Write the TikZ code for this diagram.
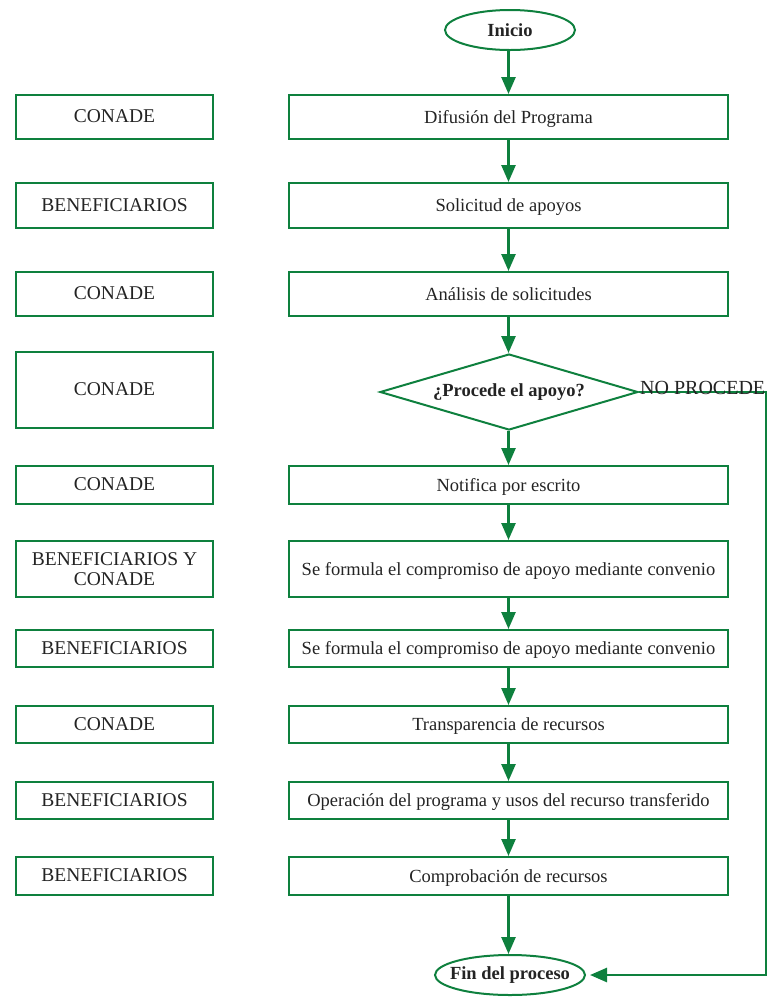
\documentclass[tikz,border=0pt]{standalone}
\usepackage{fontspec}
\setmainfont{Liberation Serif}
\usetikzlibrary{arrows.meta,shapes.geometric}
\definecolor{fgreen}{RGB}{14,128,62}
\definecolor{ftext}{RGB}{35,35,35}
\begin{document}
\begin{tikzpicture}[x=1pt,y=-1pt,
  basebox/.style={draw=fgreen,line width=2pt,rectangle,inner sep=0pt,text=ftext,align=center},
  box/.style={basebox,font=\fontsize{18.5}{19}\selectfont,text height=1.4em,text depth=0.2em},
  lbox/.style={basebox,font=\fontsize{19.5}{20}\selectfont,text height=1.3em,text depth=0.2em},
  mbox/.style={basebox,font=\fontsize{19.5}{20}\selectfont},
  term/.style={draw=fgreen,line width=2pt,ellipse,text=ftext,font=\bfseries\fontsize{18.5}{19}\selectfont},
  dec/.style={draw=fgreen,line width=2pt,diamond,aspect=3.4,inner sep=0pt,text=ftext,font=\bfseries\fontsize{18.5}{19}\selectfont,minimum width=258pt,minimum height=76pt},
  flow/.style={draw=fgreen,line width=2.6pt,-{Triangle[width=14pt,length=17pt]}},
  lbl/.style={text=ftext,font=\fontsize{20}{21}\selectfont,inner sep=0pt}]
\useasboundingbox (0,0) rectangle (768,997);
% terminals
\node[term,inner sep=0pt,minimum width=130pt,minimum height=40pt] (start) at (510,30) {Inicio};
\node[term,inner sep=-7pt,minimum width=150pt,minimum height=40pt] (end) at (510,975) {Fin del proceso};
% right column
\node[box,minimum width=439pt,minimum height=44pt] (r1) at (508.5,117) {Difusión del Programa};
\node[box,minimum width=439pt,minimum height=45pt] (r2) at (508.5,205.5) {Solicitud de apoyos};
\node[box,minimum width=439pt,minimum height=44pt] (r3) at (508.5,294) {Análisis de solicitudes};
\node[dec] (d) at (509,392) {¿Procede el apoyo?};
\node[box,minimum width=439pt,minimum height=38pt] (r5) at (508.5,485) {Notifica por escrito};
\node[box,minimum width=439pt,minimum height=56pt] (r6) at (508.5,569) {Se formula el compromiso de apoyo mediante convenio};
\node[box,minimum width=439pt,minimum height=37pt] (r7) at (508.5,648.5) {Se formula el compromiso de apoyo mediante convenio};
\node[box,minimum width=439pt,minimum height=37pt] (r8) at (508.5,724.5) {Transparencia de recursos};
\node[box,minimum width=439pt,minimum height=37pt] (r9) at (508.5,800.5) {Operación del programa y usos del recurso transferido};
\node[box,minimum width=439pt,minimum height=38pt] (r10) at (508.5,876) {Comprobación de recursos};
% left column
\node[lbox,minimum width=197pt,minimum height=44pt] (l1) at (114.5,117) {CONADE};
\node[lbox,minimum width=197pt,minimum height=45pt] (l2) at (114.5,205.5) {BENEFICIARIOS};
\node[lbox,minimum width=197pt,minimum height=44pt] (l3) at (114.5,294) {CONADE};
\node[lbox,minimum width=197pt,minimum height=76pt] (l4) at (114.5,390) {CONADE};
\node[lbox,minimum width=197pt,minimum height=38pt] (l5) at (114.5,485) {CONADE};
\node[mbox,minimum width=197pt,minimum height=56pt] (l6) at (114.5,569) {BENEFICIARIOS Y\\CONADE};
\node[lbox,minimum width=197pt,minimum height=37pt] (l7) at (114.5,648.5) {BENEFICIARIOS};
\node[lbox,minimum width=197pt,minimum height=37pt] (l8) at (114.5,724.5) {CONADE};
\node[lbox,minimum width=197pt,minimum height=37pt] (l9) at (114.5,800.5) {BENEFICIARIOS};
\node[lbox,minimum width=197pt,minimum height=38pt] (l10) at (114.5,876) {BENEFICIARIOS};
% flow arrows
\draw[flow] (start.south -| r1.north) -- (r1.north);
\draw[flow] (r1) -- (r2);
\draw[flow] (r2) -- (r3);
\draw[flow] (r3.south) -- (r3.south |- d.north);
\draw[flow] (d.south -| r5.north) -- (r5.north);
\draw[flow] (r5) -- (r6);
\draw[flow] (r6) -- (r7);
\draw[flow] (r7) -- (r8);
\draw[flow] (r8) -- (r9);
\draw[flow] (r9) -- (r10);
\draw[flow] (r10.south) -- (r10.south |- end.north);
% no procede
\coordinate (c1) at (766,392);
\coordinate (c2) at (766,975);
\draw[flow] (d.east) -- (c1) -- (c2) -- ([xshift=4pt]end.east);
\node[lbl,anchor=south west] (np) at ([xshift=1pt,yshift=-3pt]d.east) {NO PROCEDE};
\end{tikzpicture}
\end{document}
